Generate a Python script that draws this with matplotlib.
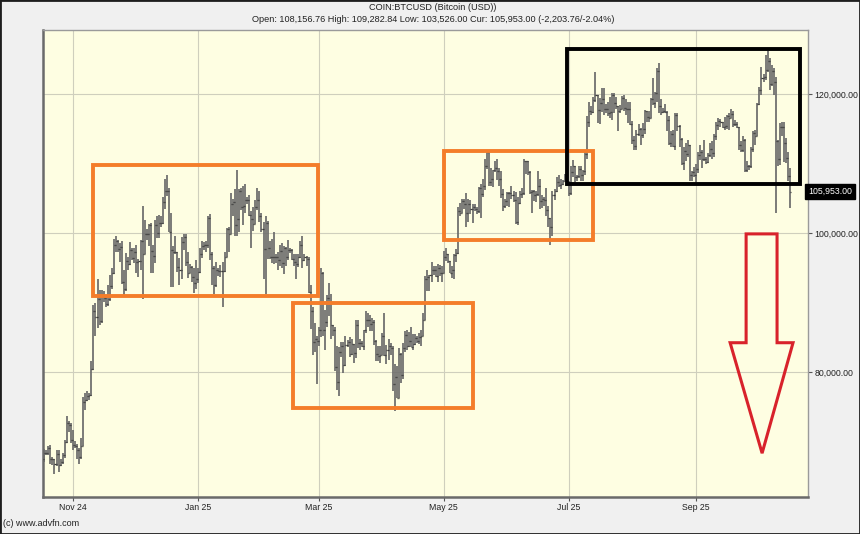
import matplotlib
matplotlib.use('Agg')
import matplotlib.pyplot as plt
import matplotlib.dates as mdates
import matplotlib.patches as patches
import matplotlib.transforms as mtransforms
from matplotlib.ticker import FuncFormatter
import numpy as np
import pandas as pd

plt.rcParams['font.family'] = ['Liberation Sans', 'DejaVu Sans']

# Daily BTC/USD bars, 18 Oct 2024 .. 17 Oct 2025, values in thousands of USD
start_date = '2024-10-18'
prev_close = 67.4  # close of 17 Oct 2024 (open of the first bar)

close = [
    68.4, 68.4, 69.0, 67.4, 67.4, 66.7, 68.2, 66.6, 67.0, 68.0, 69.9, 72.7, 72.3, 70.2,  # Oct
    69.5, 69.3, 68.7, 67.8, 69.4, 75.6, 75.9, 76.5, 76.7, 80.4, 88.7, 87.9, 90.5, 87.3, 91.1,
    90.6, 89.8, 90.5, 92.3, 94.3, 98.3, 98.9, 97.7, 98.0, 93.0, 91.9, 95.9, 95.6, 97.5, 96.4,  # Nov
    97.2, 95.8, 96.0, 98.8, 97.0, 99.9, 99.9, 101.2, 97.4, 96.7, 101.2, 100.0, 101.4, 101.4, 104.4, 106.0,
    106.1, 100.2, 97.5, 97.2, 97.3, 95.1, 94.7, 98.7, 99.4, 95.8, 94.2, 95.1, 93.7, 92.8, 93.4,  # Dec
    94.4, 96.9, 98.1, 98.2, 98.3, 102.1, 96.9, 95.0, 92.5, 94.7, 94.5, 94.5, 94.5, 96.5, 100.5, 99.9,
    104.1, 104.4, 101.1, 102.0, 106.1, 103.7, 103.9, 104.8, 104.7, 102.6, 102.0, 101.3, 103.7, 104.7, 102.4,  # Jan
    100.6, 97.7, 101.4, 97.9, 96.6, 96.6, 96.5, 96.5, 96.1, 97.4, 95.7, 97.9, 96.6, 97.5,
    97.6, 96.2, 95.8, 95.5, 96.6, 98.3, 96.1, 96.6, 96.3, 91.5, 88.7, 84.3, 84.7, 84.4,  # Feb
    86.0, 94.2, 86.1, 87.2, 90.6, 89.9, 86.7, 86.1, 80.7, 78.5, 82.9, 83.7, 81.0, 83.9, 84.3, 82.6,
    84.0, 82.7, 86.8, 84.2, 84.1, 83.8, 86.1, 87.5, 87.4, 86.9, 87.2, 84.4, 82.6, 82.3, 82.5,  # Mar
    85.2, 82.5, 83.1, 83.8, 83.5, 78.2, 79.2, 76.3, 82.6, 79.6, 83.4, 85.3, 83.7, 84.5, 83.6,
    84.0, 84.9, 84.4, 85.0, 85.1, 87.5, 93.4, 93.7, 93.9, 94.7, 94.6, 93.8, 94.9, 94.3, 94.2,  # Apr
    96.5, 96.9, 95.9, 94.3, 94.7, 96.8, 97.1, 103.2, 102.9, 104.6, 104.1, 102.8, 104.1, 103.5, 103.7, 103.5,
    103.2, 106.4, 105.6, 106.8, 109.6, 111.6, 107.3, 107.8, 109.0, 109.4, 108.9, 107.8, 105.6, 103.9, 104.6,  # May
    105.7, 105.8, 105.4, 104.7, 101.5, 104.3, 105.6, 105.7, 110.3, 110.3, 108.7, 105.9, 106.1, 105.4, 105.6,
    106.8, 104.6, 104.9, 104.7, 103.3, 102.1, 100.9, 105.4, 106.0, 107.3, 106.9, 107.1, 107.4, 108.4, 107.2,  # Jun
    105.7, 108.8, 109.6, 108.0, 108.2, 109.2, 108.3, 108.9, 111.3, 115.9, 117.5, 117.4, 119.1, 119.8, 117.7, 118.7,
    119.3, 117.9, 117.9, 117.3, 117.4, 119.9, 118.7, 118.3, 117.6, 117.9, 119.4, 118.0, 117.9, 117.8, 115.7,  # Jul
    113.3, 112.5, 114.2, 115.0, 114.1, 115.0, 117.5, 116.7, 116.5, 119.3, 118.7, 120.2, 123.3, 118.3, 117.4, 117.5,
    117.4, 116.3, 112.9, 114.3, 112.5, 116.9, 115.4, 113.5, 110.1, 111.8, 111.3, 112.6, 108.4, 108.8, 108.3,  # Aug
    109.2, 111.2, 111.7, 110.7, 110.7, 110.2, 111.2, 112.1, 111.5, 113.9, 115.5, 116.1, 115.9, 115.3, 115.4,
    116.8, 116.5, 117.1, 115.7, 115.7, 115.3, 112.7, 112.0, 113.3, 109.0, 109.7, 109.7, 112.1, 114.4, 114.0,  # Sep
    118.6, 120.6, 122.3, 122.4, 123.5, 124.7, 121.4, 123.3, 121.7, 113.2, 110.7, 115.2, 115.3, 113.0,
    110.8, 108.157, 105.953,  # Oct
]

high = [
    68.9, 68.7, 69.4, 69.5, 67.8, 67.5, 68.8, 68.8, 67.4, 68.3, 70.2, 73.6, 72.9, 72.7,
    71.6, 70.0, 69.6, 69.0, 70.5, 76.4, 76.9, 77.2, 76.9, 81.5, 89.6, 89.9, 93.4, 91.8, 91.8,
    91.7, 91.0, 92.5, 94.0, 94.9, 99.1, 99.6, 99.0, 98.6, 98.9, 94.7, 97.1, 96.6, 98.7, 97.8,
    97.9, 98.2, 96.3, 99.0, 103.9, 101.9, 100.5, 101.3, 101.4, 98.3, 101.9, 102.5, 102.6, 102.4, 105.1, 107.8,
    108.3, 106.5, 102.8, 98.1, 99.5, 97.3, 96.4, 99.4, 99.9, 99.9, 97.3, 95.5, 95.2, 94.9, 96.1,
    94.9, 97.8, 98.9, 98.7, 98.8, 102.5, 102.7, 97.2, 95.3, 95.8, 95.0, 95.4, 95.8, 97.3, 100.7, 100.8,
    105.8, 104.9, 106.3, 109.1, 106.3, 106.4, 106.8, 107.1, 105.2, 105.4, 103.2, 103.8, 104.8, 106.4, 106.0,
    102.8, 101.5, 102.5, 101.7, 98.8, 99.1, 100.1, 96.9, 97.3, 98.3, 98.5, 98.1, 98.0, 99.0,
    97.9, 97.7, 97.0, 96.9, 96.9, 98.8, 99.5, 96.9, 96.7, 96.5, 92.5, 89.3, 87.0, 85.1,
    86.5, 95.0, 94.4, 88.9, 91.0, 92.8, 91.2, 86.8, 86.5, 83.8, 83.6, 84.3, 84.3, 85.2, 84.6, 85.0,
    84.7, 84.0, 87.4, 87.4, 84.7, 84.5, 86.1, 88.7, 88.5, 88.2, 87.7, 87.4, 84.6, 83.8, 83.8,
    85.6, 88.5, 83.9, 84.7, 84.2, 83.8, 81.2, 80.8, 83.5, 82.7, 84.2, 85.9, 86.0, 85.8, 86.4,
    85.4, 85.5, 85.1, 85.6, 86.0, 88.5, 93.8, 94.6, 94.0, 95.8, 95.3, 95.2, 95.6, 95.4, 95.2,
    97.4, 97.9, 96.9, 96.0, 95.2, 96.9, 97.7, 103.7, 104.3, 104.9, 104.9, 105.8, 104.9, 104.7, 104.2, 104.1,
    103.7, 106.6, 107.1, 107.7, 110.7, 111.9, 111.8, 109.4, 109.1, 110.4, 110.7, 109.3, 108.9, 106.3, 104.9,
    105.9, 105.9, 106.8, 106.0, 105.9, 105.2, 106.0, 106.5, 110.6, 110.4, 110.4, 108.9, 106.2, 106.2, 106.0,
    108.9, 107.7, 105.5, 105.2, 106.5, 103.9, 102.0, 106.1, 106.3, 108.1, 108.3, 107.8, 107.6, 108.5, 108.8,
    107.5, 109.6, 110.5, 109.7, 108.4, 109.7, 109.7, 109.1, 111.9, 116.8, 118.8, 118.2, 119.5, 123.2, 119.9, 119.4,
    120.9, 120.9, 118.6, 118.8, 119.6, 120.1, 120.2, 119.5, 118.2, 118.4, 119.7, 119.8, 119.2, 118.8, 118.9,
    116.1, 114.0, 114.8, 115.7, 115.1, 115.8, 117.7, 117.6, 117.6, 119.4, 122.3, 120.3, 123.7, 124.4, 119.2, 118.0,
    118.5, 117.6, 116.8, 114.6, 114.8, 117.3, 117.3, 115.6, 113.6, 112.3, 112.9, 113.4, 112.6, 108.9, 109.5,
    109.9, 111.6, 112.6, 112.0, 113.4, 110.9, 111.5, 112.9, 113.2, 114.3, 115.9, 116.6, 116.4, 116.0, 116.7,
    117.0, 117.3, 117.9, 117.5, 116.2, 115.9, 115.3, 113.2, 113.9, 113.5, 110.3, 109.8, 112.3, 114.7, 114.8,
    118.7, 121.0, 123.9, 122.9, 125.6, 126.2, 125.1, 124.2, 123.8, 122.5, 113.4, 115.8, 116.0, 115.9,
    113.6, 111.7, 109.283,
]

low = [
    67.1, 68.0, 68.1, 66.8, 66.6, 65.3, 66.5, 65.6, 66.4, 66.8, 67.6, 69.7, 71.4, 69.7,
    68.8, 69.0, 67.5, 66.8, 67.5, 69.4, 74.5, 75.8, 76.0, 76.6, 80.3, 85.1, 86.3, 86.7, 87.1,
    90.1, 89.4, 89.5, 90.2, 91.9, 94.1, 97.2, 97.2, 95.8, 92.6, 90.8, 91.7, 94.6, 95.4, 96.1,
    95.7, 94.2, 93.6, 94.7, 90.5, 96.9, 99.0, 98.1, 94.2, 94.3, 95.7, 99.3, 99.2, 100.8, 101.3, 103.4,
    105.3, 100.1, 92.2, 92.2, 96.9, 94.4, 92.5, 93.4, 97.6, 95.2, 93.5, 94.2, 93.0, 91.4, 92.0,
    92.8, 94.2, 96.4, 97.5, 97.3, 97.9, 96.1, 92.5, 91.2, 92.2, 93.8, 93.7, 89.3, 94.4, 96.5, 97.3,
    100.2, 102.4, 99.6, 99.5, 100.1, 103.3, 101.2, 102.8, 104.1, 102.5, 97.8, 100.3, 101.3, 103.3, 101.5,
    100.2, 93.4, 91.2, 96.2, 96.2, 95.7, 95.6, 95.7, 94.7, 95.3, 94.9, 94.1, 95.3, 96.1,
    97.1, 96.1, 95.2, 93.4, 95.1, 96.4, 94.9, 95.9, 95.3, 91.3, 86.2, 82.5, 82.8, 78.2,
    83.7, 85.0, 85.1, 83.1, 86.4, 88.1, 84.7, 85.2, 80.1, 77.4, 76.6, 82.1, 79.9, 80.8, 83.6, 82.2,
    82.5, 81.3, 82.0, 83.4, 83.2, 83.6, 83.2, 85.6, 86.4, 85.9, 85.9, 83.9, 81.6, 81.6, 81.3,
    82.4, 82.3, 81.2, 81.7, 82.4, 77.2, 74.4, 76.2, 76.2, 78.4, 79.0, 82.8, 83.1, 83.6, 83.6,
    83.2, 83.9, 84.1, 84.0, 83.7, 85.2, 87.5, 91.7, 91.6, 92.9, 93.9, 93.6, 92.9, 93.8, 92.9,
    94.2, 96.0, 95.7, 94.2, 93.5, 93.4, 95.8, 97.0, 102.4, 102.9, 103.5, 100.8, 101.5, 102.7, 101.4, 103.1,
    102.7, 102.9, 102.1, 105.2, 106.2, 109.2, 106.8, 106.7, 106.6, 108.7, 107.6, 106.8, 105.0, 103.2, 103.6,
    103.9, 103.7, 104.9, 104.5, 101.3, 101.1, 104.1, 105.0, 105.4, 108.5, 108.3, 105.6, 102.8, 104.6, 104.5,
    105.3, 103.4, 103.6, 103.9, 102.4, 100.9, 98.2, 99.6, 104.7, 105.9, 106.6, 106.3, 106.9, 107.4, 106.8,
    105.3, 105.5, 108.1, 107.3, 107.5, 107.9, 107.5, 107.4, 108.4, 110.6, 115.3, 116.9, 117.3, 118.9, 115.8, 115.7,
    117.4, 117.0, 117.3, 116.8, 116.5, 116.2, 117.2, 117.8, 114.7, 117.2, 117.9, 117.5, 116.9, 115.8, 115.6,
    112.8, 112.0, 112.0, 114.0, 112.7, 113.7, 114.3, 115.9, 116.0, 116.5, 118.4, 118.0, 118.9, 117.3, 116.9, 117.3,
    117.3, 114.7, 112.7, 112.4, 112.4, 111.9, 114.7, 112.4, 109.8, 109.0, 110.4, 110.9, 107.5, 107.4, 108.1,
    107.3, 108.6, 110.5, 109.4, 110.3, 109.9, 110.0, 110.9, 110.7, 110.9, 113.4, 114.8, 115.2, 115.1, 114.8,
    114.9, 114.8, 116.6, 115.3, 115.4, 115.1, 112.0, 111.6, 111.7, 108.8, 108.7, 109.1, 109.4, 111.6, 112.7,
    114.0, 118.4, 119.9, 121.7, 122.0, 123.1, 120.6, 121.1, 119.8, 102.9, 109.6, 109.8, 113.9, 110.2,
    110.1, 107.5, 103.526,
]

title_1 = 'COIN:BTCUSD (Bitcoin (USD))'
title_2 = 'Open: 108,156.76 High: 109,282.84 Low: 103,526.00 Cur: 105,953.00 (-2,203.76/-2.04%)'
x_tick_dates = ['2024-11-01', '2025-01-01', '2025-03-01', '2025-05-01', '2025-07-01', '2025-09-01']
x_tick_labels = ['Nov 24', 'Jan 25', 'Mar 25', 'May 25', 'Jul 25', 'Sep 25']
y_ticks = [80000, 100000, 120000]

assert len(close) == len(high) == len(low), (len(close), len(high), len(low))

# ---- build bars
dates = pd.date_range(start_date, periods=len(close), freq='D')
x = mdates.date2num(dates)
c = np.array(close) * 1000
h = np.array(high) * 1000
l = np.array(low) * 1000
o = np.concatenate([[prev_close * 1000], c[:-1]])
h = np.maximum(h, np.maximum(o, c))
l = np.minimum(l, np.minimum(o, c))

# helper: day offset from 1 Nov 2024 -> date number
base = mdates.date2num(pd.Timestamp('2024-11-01'))
def dx(days):
    return base + days

fig = plt.figure(figsize=(8.6, 5.34), dpi=100, facecolor='#f0f0f0')
ax = fig.add_axes([43 / 860, 37 / 534, 765 / 860, 467 / 534])
ax.set_facecolor('#fefee2')

bar_col = '#6b6b6b'
ax.vlines(x, l, h, color=bar_col, lw=1.25, zorder=3)
ax.hlines(o, x - 0.5, x, color='#3a3a3a', lw=0.9, zorder=3)
ax.hlines(c, x, x + 0.5, color='#3a3a3a', lw=0.9, zorder=3)

ax.set_xlim(dx(-14.6), dx(358.7))
ax.set_ylim(62000, 129200)

ax.set_xticks(mdates.date2num(pd.to_datetime(x_tick_dates)))
ax.set_xticklabels(x_tick_labels)
ax.set_yticks(y_ticks)
ax.yaxis.set_major_formatter(FuncFormatter(lambda v, p: f'{v:,.2f}'))
ax.yaxis.tick_right()
ax.tick_params(axis='both', labelsize=6.3, colors='#555555', labelcolor='#222222',
               length=3, width=0.8, pad=1.5)
ax.grid(True, color='#cfcfbd', lw=0.8, zorder=0)

for side in ['left', 'bottom']:
    ax.spines[side].set_color('#6a6a6a')
    ax.spines[side].set_linewidth(1.8)
for side in ['right', 'top']:
    ax.spines[side].set_color('#9a9a9a')
    ax.spines[side].set_linewidth(1.0)

# ---- hand-drawn boxes
orange = '#f47d2a'
boxes = [
    (9.8, 119.6, 90900, 109800),    # Dec-Feb range
    (107.4, 195.2, 74800, 89900),   # Mar-Apr range
    (181.1, 253.8, 99000, 111800),  # May-Jun range
]
for d0, d1, y0, y1 in boxes:
    ax.add_patch(patches.Rectangle((dx(d0), y0), d1 - d0, y1 - y0, fill=False,
                                   ec=orange, lw=2.8, zorder=4))
ax.add_patch(patches.Rectangle((dx(241.1), 107000), 354.8 - 241.1, 126500 - 107000,
                               fill=False, ec='black', lw=2.8, zorder=4))

# ---- red down arrow
arrow_pts = [(328.5, 99860), (343.6, 99860), (343.6, 84200), (351.4, 84200),
             (336.3, 68300), (320.7, 84200), (328.5, 84200)]
ax.add_patch(patches.Polygon([(dx(a), b) for a, b in arrow_pts], closed=True,
                             fill=False, ec='#d8222b', lw=2.2, joinstyle='miter', zorder=4))

# ---- current price label
trans = mtransforms.blended_transform_factory(ax.transAxes, ax.transData)
ax.text(1.0, c[-1], f'{c[-1]:,.2f}', transform=trans, ha='left', va='center',
        fontsize=6.3, color='white', zorder=6,
        bbox=dict(boxstyle='square,pad=0.3', fc='black', ec='black'))

# ---- titles and footer
fig.text(433 / 860, 1 - 8 / 534, title_1, ha='center', va='center', fontsize=6.6, color='#222222')
fig.text(433 / 860, 1 - 19 / 534, title_2, ha='center', va='center', fontsize=6.6, color='#222222')
fig.text(3 / 860, 1 - 524 / 534, '(c) www.advfn.com', ha='left', va='center', fontsize=6.5, color='#222222')

fig.patches.append(patches.Rectangle((0, 0), 1, 1, transform=fig.transFigure, fill=False,
                                     ec='#1e1e1e', lw=2.0))

fig.savefig('out.png', dpi=100, facecolor=fig.get_facecolor())
